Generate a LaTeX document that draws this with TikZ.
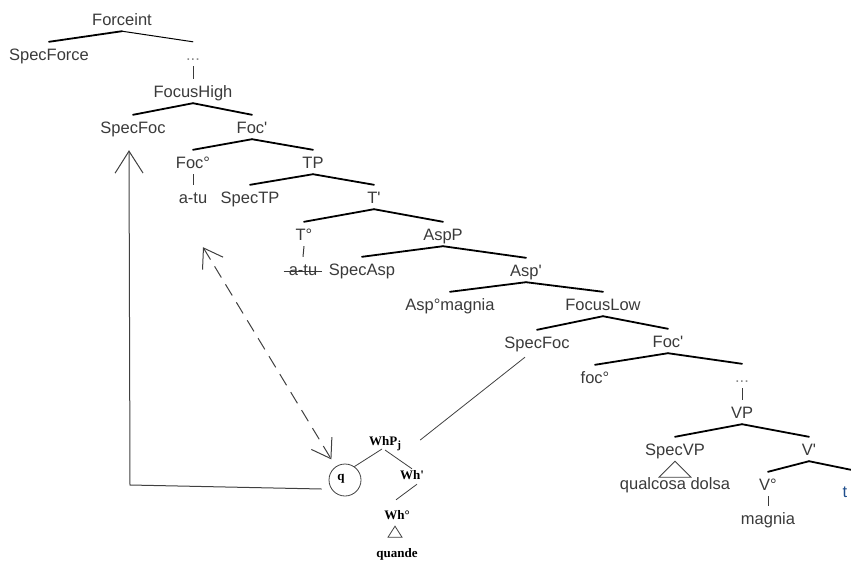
\documentclass[tikz,border=0pt]{standalone}
\usepackage{fontspec}
\newfontfamily\treefont{Liberation Sans}
\newfontfamily\whfont{Liberation Serif}
\usetikzlibrary{arrows.meta,calc}
\definecolor{lbl}{HTML}{3A3A3A}
\definecolor{dotgrey}{HTML}{8A8A8A}
\definecolor{linkgrey}{HTML}{404040}
\definecolor{tracecol}{HTML}{1F4E8C}
\begin{document}
\begin{tikzpicture}[x=1pt,y=-1pt,
  lab/.style={font=\treefont\fontsize{16.5}{18}\selectfont, text=lbl,
    inner xsep=1pt, inner ysep=6pt, text height=12pt, text depth=0pt},
  dotlab/.style={lab, text=dotgrey},
  br/.style={line width=1.8pt, line cap=round},
  thinbr/.style={line width=1pt, line cap=round},
  stem/.style={line width=1pt, draw=lbl},
  wh/.style={font=\whfont\bfseries\fontsize{13}{15}\selectfont, text=black,
    inner sep=1pt, text height=9pt, text depth=0pt},
  tie/.style={line width=0.8pt, draw=linkgrey},
  arr/.style={line width=1pt, draw=linkgrey,
    -{Straight Barb[length=22pt,width=28pt,line width=1pt]}},
  darr/.style={line width=1pt, draw=linkgrey, dash pattern=on 13pt off 8pt,
    {Straight Barb[length=18pt,width=24pt,line width=1pt]}-{Straight Barb[length=18pt,width=24pt,line width=1pt]}},
]
\useasboundingbox (0,0) rectangle (851,565);

% --- tree labels ---
\node[lab] (force) at (122,19) {Forceint};
\node[lab] (specforce) at (49,54) {SpecForce};
\node[dotlab] (dotsA) at (193,54) {...};
\node[lab] (fhigh) at (193,91) {FocusHigh};
\node[lab] (specfocA) at (133,127) {SpecFoc};
\node[lab] (focbarA) at (252,127) {Foc'};
\node[lab] (focheadA) at (193,162) {Foc°};
\node[lab] (tp) at (313,162) {TP};
\node[lab] (atu) at (193,197) {a-tu};
\node[lab] (spectp) at (250,197) {SpecTP};
\node[lab] (tbar) at (374,197) {T'};
\node[lab] (thead) at (304,234) {T°};
\node[lab] (aspp) at (443,234) {AspP};
\node[lab] (atucopy) at (303,269) {a-tu};
\node[lab] (specasp) at (362,269) {SpecAsp};
\node[lab] (aspbar) at (526,270) {Asp'};
\node[lab] (asphead) at (450,304) {Asp°magnia};
\node[lab] (flow) at (603,304) {FocusLow};
\node[lab] (specfocB) at (537,342) {SpecFoc};
\node[lab] (focbarB) at (668,341) {Foc'};
\node[lab] (focheadB) at (595,377) {foc°};
\node[dotlab] (dotsB) at (742,376) {...};
\node[lab] (vp) at (742,412) {VP};
\node[lab] (specvp) at (675,449) {SpecVP};
\node[lab] (vbar) at (809,449) {V'};
\node[lab] (qd) at (675,483) {qualcosa dolsa};
\node[lab] (vhead) at (768,484) {V°};
\node[lab] (magnia) at (768,518) {magnia};
\node[lab, text=tracecol] (trace) at (845,491) {t};

% --- branches ---
\draw[br] (force.south) -- (specforce.north);
\draw[thinbr] (force.south) -- (dotsA.north);
\draw[stem] (dotsA.south) -- (fhigh.north);
\draw[br] (fhigh.south) -- (specfocA.north);
\draw[br] (fhigh.south) -- (focbarA.north);
\draw[br] (focbarA.south) -- (focheadA.north);
\draw[br] (focbarA.south) -- (tp.north);
\draw[stem] (focheadA.south) -- (atu.north);
\draw[br] (tp.south) -- (spectp.north);
\draw[br] (tp.south) -- (tbar.north);
\draw[br] (tbar.south) -- (thead.north);
\draw[br] (tbar.south) -- (aspp.north);
\draw[stem] (thead.south) -- (atucopy.north);
\draw[line width=1pt, draw=lbl] ([shift={(-4,2)}]atucopy.west) -- ([shift={(4,2)}]atucopy.east);
\draw[br] (aspp.south) -- (specasp.north);
\draw[br] (aspp.south) -- (aspbar.north);
\draw[br] (aspbar.south) -- (asphead.north);
\draw[br] (aspbar.south) -- (flow.north);
\draw[br] (flow.south) -- (specfocB.north);
\draw[br] (flow.south) -- (focbarB.north);
\draw[br] (focbarB.south) -- (focheadB.north);
\draw[br] (focbarB.south) -- (dotsB.north);
\draw[stem] (dotsB.south) -- (vp.north);
\draw[br] (vp.south) -- (specvp.north);
\draw[br] (vp.south) -- (vbar.north);
\draw[tie] (specvp.south) -- ++(-16,16) -- ++(32,0) -- cycle;
\draw[br] (vbar.south) -- (vhead.north);
\draw[br] (vbar.south) -- ([shift={(6,-9)}]trace.north);
\draw[stem] (vhead.south) -- (magnia.north);

% --- wh-phrase ---
\node[wh, anchor=base west] (whp) at (368,445) {WhP\raisebox{-3pt}{\fontsize{11}{11}\selectfont j}};
\node[draw=linkgrey, line width=0.8pt, circle, minimum size=32pt, inner sep=0pt] (qc) at (345,480) {};
\node[wh] (qlab) at (341,476) {q};
\node[wh, anchor=base] (whbar) at (412,479) {Wh'};
\node[wh, anchor=base] (whhead) at (397,519) {Wh°};
\node[wh, anchor=base] (quande) at (397,557) {quande};

\draw[tie] ($(whp.base west)+(14,4)$) -- (qc.55);
\draw[tie] ($(whp.base west)+(17,5)$) -- (whbar.north);
\draw[tie] ($(whbar.south)+(5,4)$) -- ($(whhead.north)+(-1,-9)$);
\draw[tie] ($(whhead.south)+(-2,6)$) -- ++(-7,11) -- ++(14,0) -- cycle;
\draw[tie] ($(specfocB.south)+(-12,3)$) -- ($(whp.base east)+(18,-5)$);

% --- movement arrows ---
\coordinate (corner) at (130,485);
\draw[arr] ($(qc.west)+(-7,9)$) -- (corner) -- ($(specfocA.south)+(-4,11)$);
\draw[darr] ($(atu.south)+(10,38)$) -- ($(qc.north west)+(-2,-9)$);
\end{tikzpicture}
\end{document}
